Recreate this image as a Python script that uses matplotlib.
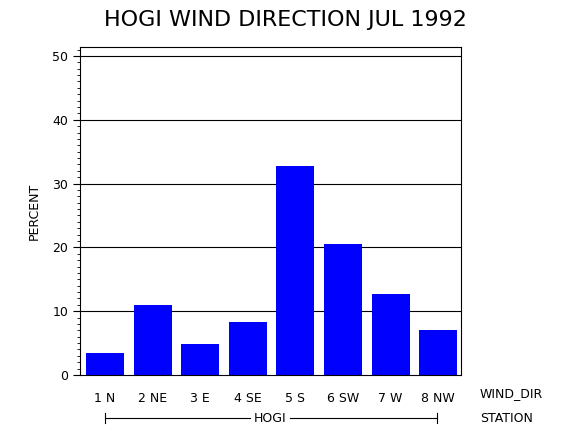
import numpy as np
import matplotlib.pyplot as plt
from matplotlib.ticker import MultipleLocator

labels = ["1 N", "2 NE", "3 E", "4 SE", "5 S", "6 SW", "7 W", "8 NW"]
percent = [3.5, 10.9, 4.8, 8.3, 32.7, 20.6, 12.7, 7.0]
yticks = [0, 10, 20, 30, 40, 50]

fig = plt.figure(figsize=(5.7, 4.3), dpi=100)
ax = fig.add_axes([80/570, 1-375/430, 381/570, 328/430])

x = np.arange(1, len(percent)+1)
ax.set_axisbelow(True)
for t in yticks[1:]:
    ax.axhline(t, color='black', lw=0.8, zorder=0)
ax.bar(x, percent, width=0.8, color='#0000ff', zorder=2)

ax.set_xlim(0.475, 8.48)
ax.set_ylim(0, 51.4)
ax.set_yticks(yticks)
ax.set_yticklabels([str(t) for t in yticks], fontsize=9)
ax.yaxis.set_minor_locator(MultipleLocator(1))
ax.tick_params(axis='y', which='minor', length=2)
ax.tick_params(axis='y', which='major', length=5)
ax.set_xticks(x)
ax.set_xticklabels(labels, fontsize=9)
ax.tick_params(axis='x', length=0, pad=12)
ax.set_ylabel("PERCENT", fontsize=9, labelpad=8)

fig.text(480/570, 1-394/430, "WIND_DIR", fontsize=9, va='center')
fig.text(480/570, 1-418/430, "STATION", fontsize=9, va='center')
fig.text(270/570, 1-418/430, "HOGI", fontsize=9, va='center', ha='center')
fig.add_artist(plt.Line2D([105/570, 250/570], [1-418/430]*2, color='black', lw=0.8))
fig.add_artist(plt.Line2D([290/570, 437/570], [1-418/430]*2, color='black', lw=0.8))
for xx in [105, 437]:
    fig.add_artist(plt.Line2D([xx/570]*2, [1-413/430, 1-423/430], color='black', lw=0.8))

fig.text(285/570, 1-20/430, "HOGI WIND DIRECTION JUL 1992", fontsize=16, ha='center', va='center')

fig.savefig("out.png", dpi=100)
